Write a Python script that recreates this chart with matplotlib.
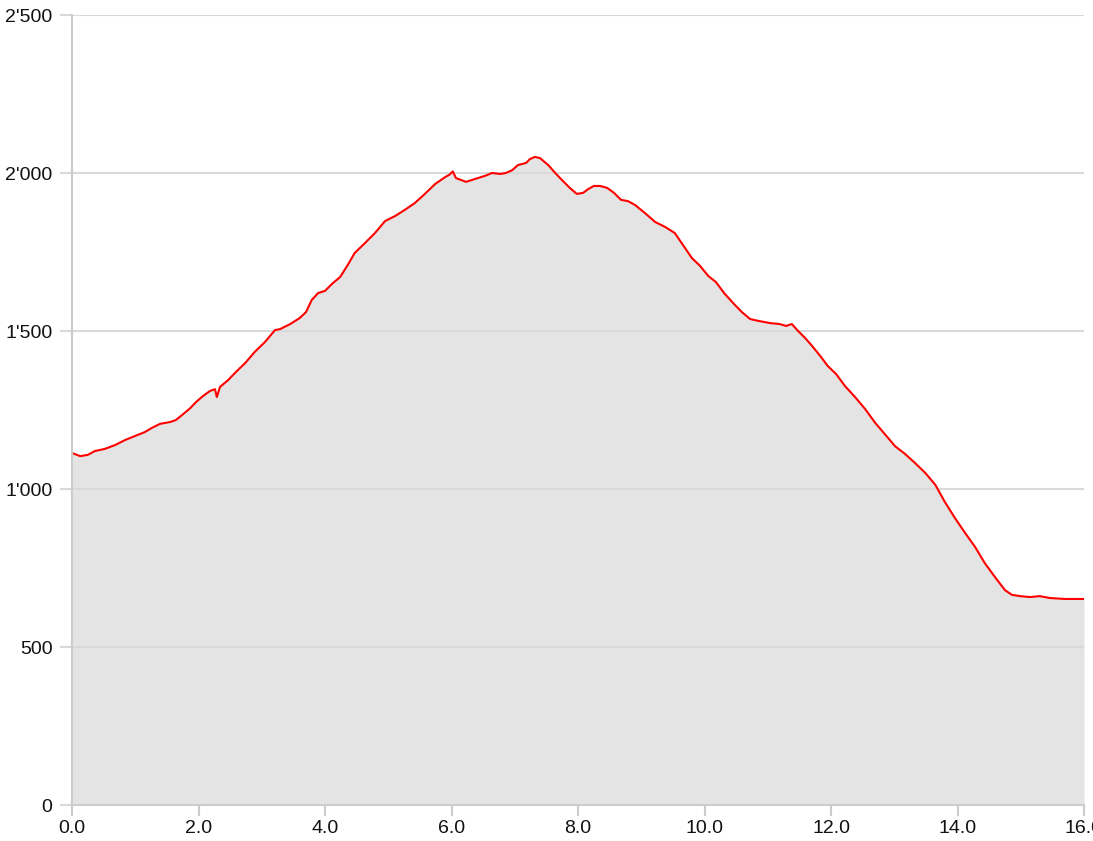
import matplotlib
matplotlib.use('Agg')
import matplotlib.pyplot as plt
from matplotlib.ticker import FuncFormatter

# Distance (km) and elevation (m)
distance = [0.0, 0.13, 0.25, 0.36, 0.52, 0.68, 0.84, 1.0, 1.15, 1.26, 1.39, 1.55,
            1.64, 1.74, 1.87, 1.96, 2.07, 2.18, 2.26, 2.29, 2.34, 2.47, 2.59, 2.74,
            2.89, 3.05, 3.21, 3.29, 3.45, 3.60, 3.70, 3.79, 3.89, 4.0, 4.11, 4.24,
            4.36, 4.47, 4.63, 4.79, 4.95, 5.11, 5.26, 5.42, 5.58, 5.74, 5.90, 5.97,
            6.02, 6.07, 6.23, 6.37, 6.53, 6.64, 6.77, 6.86, 6.96, 7.05, 7.18, 7.24,
            7.32, 7.40, 7.53, 7.64, 7.76, 7.87, 7.98, 8.08, 8.16, 8.25, 8.35, 8.46,
            8.57, 8.68, 8.79, 8.90, 9.06, 9.22, 9.38, 9.53, 9.66, 9.80, 9.93, 10.06,
            10.18, 10.31, 10.45, 10.59, 10.72, 10.85, 11.04, 11.19, 11.29, 11.38,
            11.48, 11.59, 11.70, 11.83, 11.95, 12.08, 12.22, 12.38, 12.54, 12.70,
            12.85, 13.01, 13.17, 13.33, 13.49, 13.65, 13.80, 13.96, 14.12, 14.28,
            14.43, 14.59, 14.75, 14.86, 14.99, 15.15, 15.30, 15.46, 15.70, 16.0]
elevation = [1114, 1104, 1108, 1120, 1127, 1139, 1155, 1168, 1180, 1193, 1206, 1212,
             1218, 1234, 1256, 1275, 1294, 1310, 1316, 1291, 1323, 1345, 1370, 1399,
             1434, 1465, 1503, 1506, 1522, 1541, 1560, 1598, 1620, 1627, 1649, 1671,
             1709, 1747, 1778, 1810, 1848, 1864, 1883, 1905, 1934, 1965, 1987, 1995,
             2005, 1984, 1972, 1981, 1991, 2000, 1997, 2000, 2009, 2025, 2032, 2044,
             2051, 2047, 2025, 2000, 1975, 1953, 1934, 1937, 1949, 1959, 1959, 1953,
             1937, 1915, 1911, 1899, 1873, 1845, 1829, 1810, 1772, 1731, 1706, 1674,
             1655, 1620, 1589, 1560, 1538, 1532, 1525, 1522, 1516, 1522,
             1500, 1478, 1453, 1421, 1389, 1364, 1326, 1291, 1253, 1209,
             1174, 1136, 1111, 1082, 1051, 1013, 959, 908, 861, 816,
             766, 722, 680, 665, 661, 658, 661, 655, 652, 652]

x_ticks = [0, 2, 4, 6, 8, 10, 12, 14, 16]
y_ticks = [0, 500, 1000, 1500, 2000, 2500]

fig = plt.figure(figsize=(10.93, 8.41), dpi=100)
ax = fig.add_axes([72 / 1093, 36 / 841, 1012 / 1093, 790 / 841])

ax.fill_between(distance, elevation, 0, color='#e4e4e4', linewidth=0, zorder=1)
ax.plot(distance, elevation, color='#ff0000', linewidth=1.5, zorder=3)

ax.set_xlim(0, 16)
ax.set_ylim(0, 2500)
ax.set_xticks(x_ticks)
ax.set_yticks(y_ticks)
ax.xaxis.set_major_formatter(FuncFormatter(lambda v, p: '%.1f' % v))
ax.yaxis.set_major_formatter(FuncFormatter(lambda v, p: '{:,}'.format(int(v)).replace(',', "'")))

# horizontal grid lines drawn above the fill, like the reference
for y in y_ticks[1:]:
    ax.axhline(y, color='#d9d9d9', linewidth=1.5, zorder=2)

for side in ['top', 'right']:
    ax.spines[side].set_visible(False)
for side in ['left', 'bottom']:
    ax.spines[side].set_color('#cccccc')
    ax.spines[side].set_linewidth(1.5)
    ax.spines[side].set_zorder(4)

# tick lengths / pads are in points (1 px = 0.72 pt at 100 dpi)
ax.tick_params(axis='y', length=9, width=1.5, color='#d9d9d9', pad=5,
               labelsize=14, labelcolor='#111111')
ax.tick_params(axis='x', length=8, width=1.5, color='#cccccc', pad=3,
               labelsize=14, labelcolor='#111111')
for lbl in ax.get_xticklabels() + ax.get_yticklabels():
    lbl.set_fontfamily('Liberation Sans')

fig.savefig('out.png', dpi=100)
